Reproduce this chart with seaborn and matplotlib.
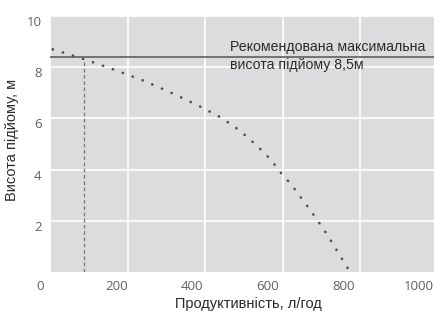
import numpy as np
import pandas as pd
import matplotlib
matplotlib.use("Agg")
import matplotlib.pyplot as plt
import matplotlib.transforms as mtransforms
import seaborn as sns

# pump curve
flow = [7, 87, 166, 244, 322, 397, 439, 474, 508, 539, 569, 595, 623, 648, 674, 698, 721, 743, 768]
head = [8.70, 8.32, 7.90, 7.46, 6.94, 6.39, 6.05, 5.70, 5.29, 4.86, 4.40, 3.89, 3.41, 2.90, 2.37, 1.85, 1.32, 0.77, 0.16]

max_head = 8.4          # recommended max lift line
op_flow = 88            # dashed marker
op_head = 8.3

x_ticks = [0, 200, 400, 600, 800, 1000]
y_ticks = [2, 4, 6, 8, 10]
note = "Рекомендована максимальна\nвисота підйому 8,5м"
x_label = "Продуктивність, л/год"
y_label = "Висота підйому, м"

sns.set_theme(style="darkgrid", rc={"axes.facecolor": "#dcdcde",
                                    "grid.color": "white",
                                    "grid.linewidth": 1.2})
plt.rcParams['font.family'] = ['Liberation Sans', 'DejaVu Sans']

df = pd.DataFrame({"flow": flow, "head": head})

fig = plt.figure(figsize=(4.34, 3.21), dpi=100)
ax = fig.add_axes([50 / 434, 49 / 321, 387.5 / 434, 256 / 321])

sns.lineplot(data=df, x="flow", y="head", ax=ax, color="#505050",
             linewidth=1.9, linestyle=(0, (0.1, 3.9)),
             dash_capstyle="round", sort=False)
ax.axhline(max_head, color="#555555", linewidth=1.1)
ax.plot([op_flow, op_flow], [0, op_head], color="#777777",
        linewidth=0.9, linestyle=(0, (3, 2)))

ax.text(464, 8.44, note, fontsize=10.2, color="#2a2a2a", va="center",
        linespacing=1.38)

ax.set_xlim(0, 1000)
ax.set_ylim(0, 10)
ax.set_xticks(x_ticks)
ax.set_yticks(y_ticks)
ax.set_xticklabels([str(v) for v in x_ticks], family=["Open Sans", "DejaVu Sans"],
                   fontsize=9.5, color="#606060")
ax.set_yticklabels([str(v) for v in y_ticks], family=["Open Sans", "DejaVu Sans"],
                   fontsize=9.5, color="#606060")
ax.tick_params(axis="both", length=0, pad=6)
ax.set_xlabel("")
ax.set_ylabel("")
for s in ax.spines.values():
    s.set_visible(False)

# labels sit a bit off the grid lines in the original
for v, lab in zip(x_ticks, ax.get_xticklabels()):
    dx = (-9.5 - 0.009 * v) / 100
    lab.set_transform(lab.get_transform() + mtransforms.ScaledTranslation(dx, 0, fig.dpi_scale_trans))
for lab in ax.get_yticklabels():
    lab.set_transform(lab.get_transform() + mtransforms.ScaledTranslation(0, -0.05, fig.dpi_scale_trans))

fig.text(248 / 434, 1 - 304 / 321, x_label, ha="center", va="center",
         fontsize=10.5, color="#2a2a2a")
fig.text(12.5 / 434, 1 - 140 / 321, y_label, ha="center", va="center",
         rotation=90, fontsize=10.5, color="#2a2a2a")

fig.savefig("out.png", dpi=100)
